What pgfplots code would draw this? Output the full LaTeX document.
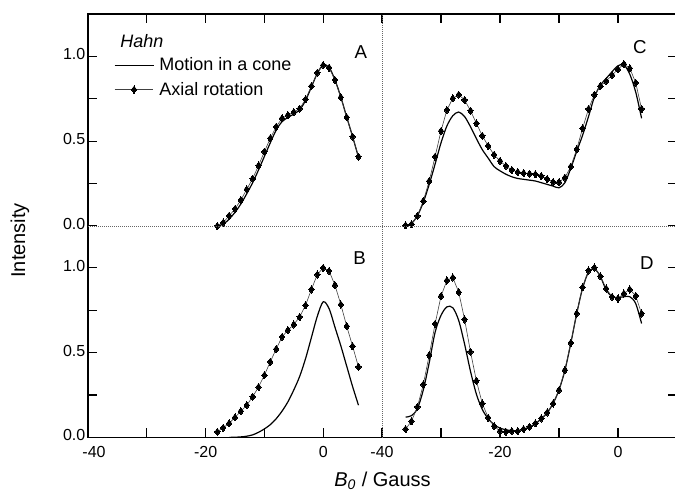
\documentclass[border=0pt]{standalone}
\usepackage{fontspec}
\setmainfont{Liberation Sans}
\usepackage{pgfplots}
\usepackage{pgfplotstable}
\pgfplotsset{compat=1.18}

% Panel A
\pgfplotstableread{
x y
-18 0.0
-17 0.02
-16 0.06
-15 0.10
-14 0.153
-13 0.216
-12 0.279
-11 0.356
-10 0.438
-9 0.517
-8 0.585
-7 0.635
-6 0.654
-5 0.672
-4 0.692
-3 0.747
-2 0.825
-1 0.904
0 0.949
1 0.934
2 0.861
3 0.759
4 0.641
5 0.527
6 0.409
}\axA
\pgfplotstableread{
x y
-18 0.0
-17 0.01
-16 0.04
-15 0.08
-14 0.13
-13 0.19
-12 0.255
-11 0.33
-10 0.41
-9 0.49
-8 0.565
-7 0.615
-6 0.64
-5 0.66
-4 0.685
-3 0.74
-2 0.82
-1 0.90
0 0.95
1 0.935
2 0.862
3 0.76
4 0.642
5 0.527
6 0.405
}\coA
% Panel B
\pgfplotstableread{
x y
-18 0.033
-17 0.057
-16 0.083
-15 0.118
-14 0.155
-13 0.19
-12 0.24
-11 0.297
-10 0.367
-9 0.446
-8 0.521
-7 0.593
-6 0.633
-5 0.666
-4 0.711
-3 0.78
-2 0.873
-1 0.961
0 1.0
1 0.982
2 0.898
3 0.784
4 0.656
5 0.538
6 0.416
}\axB
\pgfplotstableread{
x y
-16 0.0
-15 0.001
-14 0.003
-13 0.007
-12 0.015
-11 0.03
-10 0.05
-9 0.075
-8 0.11
-7 0.155
-6 0.21
-5 0.28
-4 0.36
-3 0.465
-2 0.59
-1 0.715
0 0.80
1 0.76
2 0.65
3 0.54
4 0.42
5 0.30
6 0.19
}\coB
% Panel C
\pgfplotstableread{
x y
-36 0.004
-35 0.01
-34 0.059
-33 0.147
-32 0.265
-31 0.409
-30 0.56
-29 0.684
-28 0.753
-27 0.774
-26 0.743
-25 0.68
-24 0.605
-23 0.532
-22 0.472
-21 0.42
-20 0.383
-19 0.354
-18 0.33
-17 0.318
-16 0.312
-15 0.308
-14 0.305
-13 0.295
-12 0.277
-11 0.259
-10 0.258
-9 0.285
-8 0.35
-7 0.452
-6 0.576
-5 0.69
-4 0.774
-3 0.825
-2 0.855
-1 0.89
0 0.924
1 0.955
2 0.93
3 0.845
4 0.69
}\axC
\pgfplotstableread{
x y
-36 0.0
-35 0.015
-34 0.06
-33 0.14
-32 0.245
-31 0.365
-30 0.49
-29 0.59
-28 0.65
-27 0.672
-26 0.645
-25 0.585
-24 0.515
-23 0.45
-22 0.40
-21 0.35
-20 0.325
-19 0.305
-18 0.29
-17 0.28
-16 0.275
-15 0.27
-14 0.265
-13 0.255
-12 0.245
-11 0.235
-10 0.225
-9 0.255
-8 0.34
-7 0.44
-6 0.535
-5 0.645
-4 0.76
-3 0.83
-2 0.87
-1 0.91
0 0.945
1 0.95
2 0.895
3 0.79
4 0.635
}\coC
% Panel D
\pgfplotstableread{
x y
-36 0.049
-35 0.096
-34 0.18
-33 0.312
-32 0.485
-31 0.67
-30 0.833
-29 0.926
-28 0.943
-27 0.857
-26 0.696
-25 0.505
-24 0.334
-23 0.2
-22 0.116
-21 0.067
-20 0.037
-19 0.033
-18 0.037
-17 0.037
-16 0.049
-15 0.063
-14 0.083
-13 0.112
-12 0.147
-11 0.2
-10 0.279
-9 0.397
-8 0.558
-7 0.731
-6 0.886
-5 0.985
-4 1.002
-3 0.951
-2 0.878
-1 0.829
0 0.82
1 0.849
2 0.873
3 0.835
4 0.731
}\axD
\pgfplotstableread{
x y
-36 0.12
-35 0.128
-34 0.17
-33 0.28
-32 0.44
-31 0.62
-30 0.72
-29 0.77
-28 0.765
-27 0.69
-26 0.55
-25 0.39
-24 0.255
-23 0.165
-22 0.11
-21 0.075
-20 0.055
-19 0.045
-18 0.04
-17 0.04
-16 0.048
-15 0.06
-14 0.08
-13 0.11
-12 0.145
-11 0.2
-10 0.28
-9 0.395
-8 0.555
-7 0.73
-6 0.88
-5 0.975
-4 0.995
-3 0.95
-2 0.87
-1 0.83
0 0.825
1 0.83
2 0.83
3 0.79
4 0.672
}\coD

\pgfplotsset{
  panel/.style={
    scale only axis, height=158.9pt,
    xmin=-40, xmax=10, ymin=0, ymax=1.25,
    axis line style={draw=none},
    tick align=inside, major tick length=6.75pt,
    xtick={-40,-30,-20,-10,0},
    ytick={0,0.25,0.5,0.75,1},
    tick style={black, line width=0.8pt},
    ticklabel style={font=\fontsize{12}{14}\selectfont},
    xticklabel style={yshift=-3.5pt},
    yticklabel style={anchor=east, xshift=1.5pt, yshift=1.5pt},
    anchor=south west,
  },
  cone/.style={black, line width=0.9pt, smooth, no markers},
  axial/.style={black!75, line width=0.45pt, mark=diamond*, mark size=2.7pt,
    mark options={black, fill=black, line width=0pt}},
}
\tikzset{letter/.style={font=\fontsize{14}{16}\selectfont}}

\begin{document}
\begin{tikzpicture}
\useasboundingbox (0,0) rectangle (506.25pt,368.25pt);

% A (top left)
\begin{axis}[panel, width=220.5pt, at={(66pt,198.8pt)},
  xtick pos=right, xticklabels={}, ytick pos=left,
  yticklabels={0.0,,0.5,,1.0},
  legend style={draw=none, fill=none, at={(axis cs:-35.6,1.01)}, anchor=north west,
    font=\fontsize{13.5}{16}\selectfont, inner sep=0pt, row sep=3pt, column sep=2pt},
  legend cell align=left,
  legend image code/.code={\draw[mark repeat=2,mark phase=2,#1] plot coordinates {(0pt,0pt) (14.5pt,0pt) (29pt,0pt)};},
]
\addplot[cone] table {\coA};
\addlegendentry{Motion in a cone}
\addplot[axial] table {\axA};
\addlegendentry{Axial rotation}
\node[anchor=west, font=\fontsize{13.5}{16}\itshape\selectfont] at (axis cs:-35.3,1.091) {Hahn};
\node[letter] at (axis cs:6.4,1.026) {A};
\end{axis}

% B (bottom left)
\begin{axis}[panel, width=220.5pt, at={(66pt,40.2pt)},
  xtick pos=left, xticklabels={\hspace*{9pt}-40,,-20,,0}, ytick pos=left,
  yticklabels={0.0,,0.5,,1.0},
]
\addplot[cone] table {\coB};
\addplot[axial] table {\axB};
\node[letter] at (axis cs:6.2,1.057) {B};
\end{axis}

% C (top right)
\begin{axis}[panel, width=221.25pt, at={(286.5pt,198.8pt)},
  xtick pos=right, xticklabels={}, ytick pos=right, yticklabels={},
]
\addplot[cone] table {\coC};
\addplot[axial] table {\axC};
\node[letter] at (axis cs:3.7,1.055) {C};
\end{axis}

% D (bottom right)
\begin{axis}[panel, width=221.25pt, at={(286.5pt,40.2pt)},
  xtick pos=left, xticklabels={-40,,-20,,0}, ytick pos=right, yticklabels={},
]
\addplot[cone] table {\coD};
\addplot[axial] table {\axD};
\node[letter] at (axis cs:4.9,1.028) {D};
\end{axis}

% frame and dividers
\draw[black, line width=0.9pt] (66pt,40.2pt) rectangle (507.75pt,357.75pt);
\draw[black!60, line width=0.5pt, densely dotted] (286.5pt,40.2pt) -- (286.5pt,357.75pt);
\draw[black!60, line width=0.5pt, densely dotted] (66pt,198.8pt) -- (507.75pt,198.8pt);

\node[rotate=90, font=\fontsize{15}{18}\selectfont] at (15pt,188pt) {Intensity};
\node[anchor=base, font=\fontsize{15}{18}\selectfont] at (286.9pt,3.2pt) {\textit{B}\textsubscript{\textit{0}} / Gauss};
\end{tikzpicture}
\end{document}
